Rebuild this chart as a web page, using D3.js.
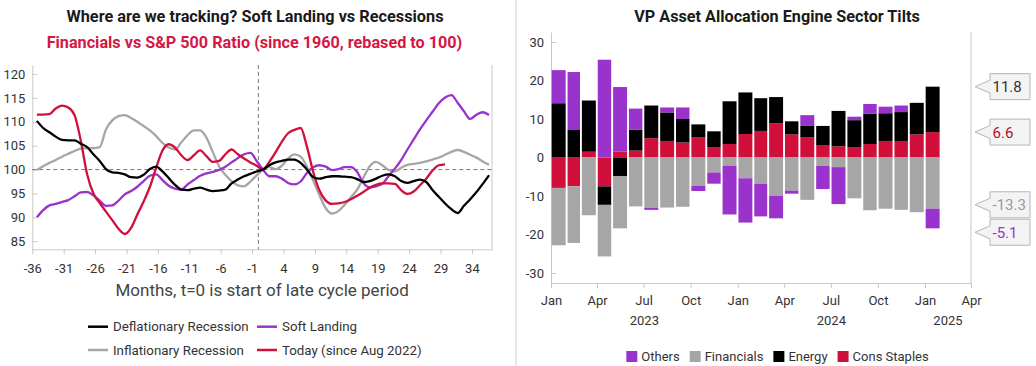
<!DOCTYPE html>
<html><head><meta charset="utf-8">
<script src="https://cdn.jsdelivr.net/npm/d3@7"></script>
<style>
body{margin:0;background:#fff;}
svg{display:block;font-family:Roboto,"Liberation Sans",sans-serif;}
</style></head><body>
<svg id="chart" width="1036" height="366"></svg>
<script>
// ---------- Left chart data ----------
const monthsL = d3.range(-36, 37);
const deflationary = [110.2,108.7,107.8,106.9,106.2,106.1,106.1,105.4,104.7,103.2,101.8,100.1,99.4,99.3,99.0,98.4,98.3,98.9,100.1,100.6,99.6,98.2,96.8,95.8,95.7,96.0,96.2,95.8,95.5,95.6,95.8,97.1,97.9,98.6,99.1,99.6,
  100.0,
  100.9,101.5,101.8,102.1,102.1,101.4,100.0,98.4,98.1,98.4,98.6,98.6,98.5,98.4,98.0,97.4,97.6,98.1,98.7,99.0,98.6,97.6,97.2,97.6,97.9,97.4,95.7,94.3,92.9,91.7,90.9,92.4,93.8,95.3,97.0,98.8];
const softLanding = [90.0,91.5,92.5,92.8,93.2,93.6,94.4,95.2,95.3,94.6,93.5,92.4,92.5,93.5,94.8,95.5,96.4,97.6,98.7,99.0,97.8,96.6,96.0,95.8,96.9,97.8,98.7,99.2,99.5,99.9,100.6,101.5,102.4,103.2,103.5,101.8,
  100.0,
  98.6,98.6,98.1,97.2,96.9,97.5,99.3,100.5,100.9,100.6,99.9,100.1,100.5,100.5,99.5,97.2,96.3,96.5,97.0,98.6,100.2,102.0,104.2,106.3,108.4,110.3,112.1,113.9,115.1,115.6,114.0,112.2,110.6,111.5,112.0,111.4];
const inflationary = [99.9,100.7,101.4,102.0,102.7,103.3,103.9,104.4,104.5,104.5,104.7,108.4,110.3,111.2,111.4,110.8,110.0,109.1,108.2,107.0,105.6,104.6,104.2,105.7,107.2,108.2,108.2,106.7,103.7,100.7,98.9,97.6,96.7,96.5,97.5,98.8,
  100.0,
  100.5,100.1,100.8,102.3,103.2,102.7,100.6,97.7,94.6,91.9,90.8,91.3,92.6,94.2,95.8,98.3,100.7,101.6,100.9,99.9,99.6,100.4,101.0,101.2,101.4,101.7,102.1,102.5,103.1,103.7,104.1,103.7,103.1,102.5,101.7,101.0];
const today = [111.5,111.5,111.6,112.8,113.4,113.0,111.4,106.0,99.0,95.0,93.0,91.2,89.4,87.6,86.5,87.8,90.6,93.3,96.4,100.4,104.0,105.3,104.6,103.0,102.0,103.0,104.0,102.8,101.6,101.8,103.2,104.2,103.2,102.3,101.5,100.8,
  100.0,
  101.6,103.6,105.8,107.6,108.3,108.7,104.8,99.5,95.6,93.5,92.8,92.9,93.2,93.8,94.5,95.3,96.2,96.8,97.1,97.1,97.0,95.7,94.9,95.4,96.7,98.1,99.8,100.9,101.1];
const yTicksL = [85,90,95,100,105,110,115,120];
const xTicksL = [-36,-31,-26,-21,-16,-11,-6,-1,4,9,14,19,24,29,34];

// ---------- Right chart data ----------
const barMonths = ["2023-01","2023-02","2023-03","2023-04","2023-05","2023-06","2023-07","2023-08","2023-09","2023-10","2023-11","2023-12",
  "2024-01","2024-02","2024-03","2024-04","2024-05","2024-06","2024-07","2024-08","2024-09","2024-10","2024-11","2024-12","2025-01"];
const consStaples = [-7.9,-7.5,1.5,-7.5,1.5,1.8,5.0,4.3,3.9,5.3,2.6,3.5,6.1,6.9,8.9,6.0,5.2,3.1,2.9,2.6,3.5,4.3,4.3,6.0,6.6];
const energy = [14.1,7.3,13.3,-4.8,-4.8,5.4,8.5,7.4,6.1,3.3,4.2,11.1,10.8,8.5,6.8,3.4,3.0,5.1,9.2,7.1,7.9,7.2,7.5,8.2,11.8];
const financials = [-14.9,-14.7,-15.0,-13.4,-13.6,-12.7,-13.1,-13.0,-12.8,-7.4,-3.9,-2.2,-5.4,-6.8,-10.0,-8.6,-11.0,-2.2,-2.5,-10.6,-13.7,-13.3,-13.6,-14.2,-13.3];
const others = [8.6,14.9,0.0,25.4,16.8,5.5,-0.5,1.3,3.0,-1.3,-2.9,-12.6,-11.5,-8.5,-5.8,-0.8,2.8,-6.0,-9.6,0.9,2.5,1.7,1.7,0.0,-5.1];
const yTicksR = [-30,-20,-10,0,10,20,30];
const yearLabels = [2023, 2024, 2025];

const COL = {purple:"#9933cc", grey:"#a6a6a6", black:"#000000", red:"#d0103a"};

const svg = d3.select("#chart");

// divider
svg.append("line").attr("x1",516).attr("x2",516).attr("y1",0).attr("y2",366).attr("stroke","#d0d0d0");

// =================== LEFT CHART ===================
const L = {left:32.3, right:492, top:65, bottom:249.3};
const xT = d3.scaleLinear().domain([-36, 37.2]).range([L.left, L.right]);
const LAG = 0.73;
const yL = d3.scaleLinear().domain([83.3, 121.9]).range([L.bottom, L.top]);
const gL = svg.append("g");

gL.append("text").attr("x",255).attr("y",22.3).attr("text-anchor","middle")
  .attr("font-size",16.3).attr("font-weight","bold").attr("fill","#1a1a1a")
  .text("Where are we tracking? Soft Landing vs Recessions");
gL.append("text").attr("x",254.5).attr("y",47.5).attr("text-anchor","middle")
  .attr("font-size",16.2).attr("font-weight","bold").attr("fill","#d41746")
  .text("Financials vs S&P 500 Ratio (since 1960, rebased to 100)");

gL.append("line").attr("x1",L.right).attr("x2",L.right).attr("y1",L.top).attr("y2",L.bottom).attr("stroke","#c8c8c8");

const yAxL = gL.append("g").attr("transform",`translate(${L.left},0)`)
  .call(d3.axisLeft(yL).tickValues(yTicksL).tickSize(-5).tickSizeOuter(0).tickPadding(7).tickFormat(d=>String(d)));
const xAxL = gL.append("g").attr("transform",`translate(0,${L.bottom})`)
  .call(d3.axisBottom(xT).tickValues(xTicksL).tickSize(5).tickSizeOuter(0).tickPadding(9).tickFormat(d=>String(d)));
[yAxL, xAxL].forEach(a=>{
  a.attr("font-family",null).attr("font-size",13);
  a.select(".domain").attr("stroke","#c8c8c8");
  a.selectAll(".tick line").attr("stroke","#c8c8c8");
  a.selectAll(".tick text").attr("fill","#333");
});

// reference dashed lines
gL.append("line").attr("x1",L.left).attr("x2",L.right).attr("y1",yL(100)).attr("y2",yL(100))
  .attr("stroke","#777").attr("stroke-dasharray","4,3");
gL.append("line").attr("x1",xT(0)).attr("x2",xT(0)).attr("y1",L.top).attr("y2",L.bottom)
  .attr("stroke","#777").attr("stroke-dasharray","4,3");

const lineGen = d3.line().x(d=>xT(d.m+LAG)).y(d=>yL(d.v)).curve(d3.curveMonotoneX);
const seriesL = [
  {name:"Inflationary Recession", vals:inflationary, color:COL.grey},
  {name:"Soft Landing", vals:softLanding, color:COL.purple},
  {name:"Today (since Aug 2022)", vals:today, color:COL.red},
  {name:"Deflationary Recession", vals:deflationary, color:COL.black}
];
seriesL.forEach(s=>{
  const pts = s.vals.map((v,i)=>({m:monthsL[i], v}));
  gL.append("path").datum(pts).attr("d",lineGen).attr("fill","none")
    .attr("stroke",s.color).attr("stroke-width",2.3).attr("stroke-linejoin","round");
});

gL.append("text").attr("x",(L.left+L.right)/2).attr("y",296).attr("text-anchor","middle")
  .attr("font-size",17).attr("fill","#444").text("Months, t=0 is start of late cycle period");

// left legend
const legL = [
  {name:"Deflationary Recession", color:COL.black, x:88, y:326.7},
  {name:"Soft Landing", color:COL.purple, x:257, y:326.7},
  {name:"Inflationary Recession", color:COL.grey, x:88, y:350},
  {name:"Today (since Aug 2022)", color:COL.red, x:257, y:350}
];
legL.forEach(d=>{
  gL.append("line").attr("x1",d.x).attr("x2",d.x+20).attr("y1",d.y).attr("y2",d.y)
    .attr("stroke",d.color).attr("stroke-width",2.5);
  gL.append("text").attr("x",d.x+25).attr("y",d.y+4.5).attr("font-size",13.3).attr("fill","#333").text(d.name);
});

// =================== RIGHT CHART ===================
const R = {left:551, right:971, top:32, bottom:283};
const parseM = d3.utcParse("%Y-%m");
const xR = d3.scaleUtc().domain([new Date(Date.UTC(2023,0,1)), new Date(Date.UTC(2025,3,1))]).range([R.left, R.right]);
const yR = d3.scaleLinear().domain([-32.6, 32.6]).range([R.bottom, R.top]);
const gR = svg.append("g");

gR.append("text").attr("x",777).attr("y",22).attr("text-anchor","middle")
  .attr("font-size",16.2).attr("font-weight","bold").attr("fill","#1a1a1a")
  .text("VP Asset Allocation Engine Sector Tilts");

gR.append("line").attr("x1",R.right).attr("x2",R.right).attr("y1",R.top).attr("y2",R.bottom).attr("stroke","#c8c8c8");

const yAxR = gR.append("g").attr("transform",`translate(${R.left},0)`)
  .call(d3.axisLeft(yR).tickValues(yTicksR).tickSize(-5).tickSizeOuter(0).tickPadding(7).tickFormat(d=>String(d)));
const xAxR = gR.append("g").attr("transform",`translate(0,${R.bottom})`)
  .call(d3.axisBottom(xR).ticks(d3.utcMonth.every(3)).tickSize(5).tickSizeOuter(0).tickPadding(8).tickFormat(d3.utcFormat("%b")));
[yAxR, xAxR].forEach(a=>{
  a.attr("font-family",null).attr("font-size",13);
  a.select(".domain").attr("stroke","#c8c8c8");
  a.selectAll(".tick line").attr("stroke","#c8c8c8");
  a.selectAll(".tick text").attr("fill","#333");
});

// year labels
const d0 = xR.domain()[0], d1 = xR.domain()[1];
yearLabels.forEach(yr=>{
  const s = new Date(Math.max(Date.UTC(yr,0,1), +d0));
  const e = new Date(Math.min(Date.UTC(yr+1,0,1), +d1));
  gR.append("text").attr("x",(xR(s)+xR(e))/2).attr("y",324.5).attr("text-anchor","middle")
    .attr("font-size",13).attr("fill","#333").text(String(yr));
});

// stacked bars
const keys = ["Cons Staples","Energy","Financials","Others"];
const colorOf = {"Cons Staples":COL.red, "Energy":COL.black, "Financials":COL.grey, "Others":COL.purple};
const rows = barMonths.map((m,i)=>({date:parseM(m), "Cons Staples":consStaples[i], "Energy":energy[i], "Financials":financials[i], "Others":others[i]}));
const stacked = d3.stack().keys(keys).offset(d3.stackOffsetDiverging)(rows);
stacked.forEach(layer=>{
  gR.append("g").attr("fill",colorOf[layer.key]).selectAll("rect").data(layer).join("rect")
    .attr("x",d=>xR(d.data.date)+0.7)
    .attr("width",d=>xR(d3.utcMonth.offset(d.data.date,1))-xR(d.data.date)-1.9)
    .attr("y",d=>yR(Math.max(d[0],d[1])))
    .attr("height",d=>Math.abs(yR(d[0])-yR(d[1])));
});

// callouts for last bar
const lastIdx = rows.length-1;
const callColors = {"Energy":"#333333","Cons Staples":"#b01030","Financials":"#999999","Others":COL.purple};
let calls = stacked.filter(l=>l[lastIdx].data[l.key]!==0).map(l=>{
  const d = l[lastIdx]; const v = d.data[l.key];
  return {key:l.key, v, y:yR(v>0?d[1]:d[0])};
}).sort((a,b)=>a.y-b.y);
const H = 26, GAP = 1.5;
for(let it=0; it<20; it++){
  for(let i=1;i<calls.length;i++){
    const ov = calls[i-1].y + H + GAP - calls[i].y;
    if(ov>0){ calls[i-1].y -= ov/2; calls[i].y += ov/2; }
  }
}
const bxTip = R.right+4, bxL = R.right+19, bxR = R.right+59;
calls.forEach(c=>{
  const cy = c.y;
  gR.append("path")
    .attr("d",`M${bxTip},${cy} L${bxL},${cy-6.5} L${bxL},${cy-H/2} L${bxR},${cy-H/2} L${bxR},${cy+H/2} L${bxL},${cy+H/2} L${bxL},${cy+6.5} Z`)
    .attr("fill","#f3f3f3").attr("stroke","#b5b5b5").attr("stroke-width",1);
  gR.append("text").attr("x",bxL+2.5).attr("y",cy+5.5).attr("font-size",15)
    .attr("fill",callColors[c.key]).text(c.v.toFixed(1));
});

// right legend
const legItems = [
  {name:"Others", color:COL.purple},
  {name:"Financials", color:COL.grey},
  {name:"Energy", color:COL.black},
  {name:"Cons Staples", color:COL.red}
];
const legG = gR.append("g");
let cx = 0;
legItems.forEach(it=>{
  legG.append("rect").attr("x",cx).attr("y",351).attr("width",11).attr("height",11).attr("fill",it.color);
  const t = legG.append("text").attr("x",cx+15).attr("y",361).attr("font-size",13).attr("fill","#333").text(it.name);
  cx += 15 + t.node().getComputedTextLength() + 10;
});
const legW = cx - 10;
legG.attr("transform",`translate(${777.5 - legW/2},0)`);
</script>
</body></html>
